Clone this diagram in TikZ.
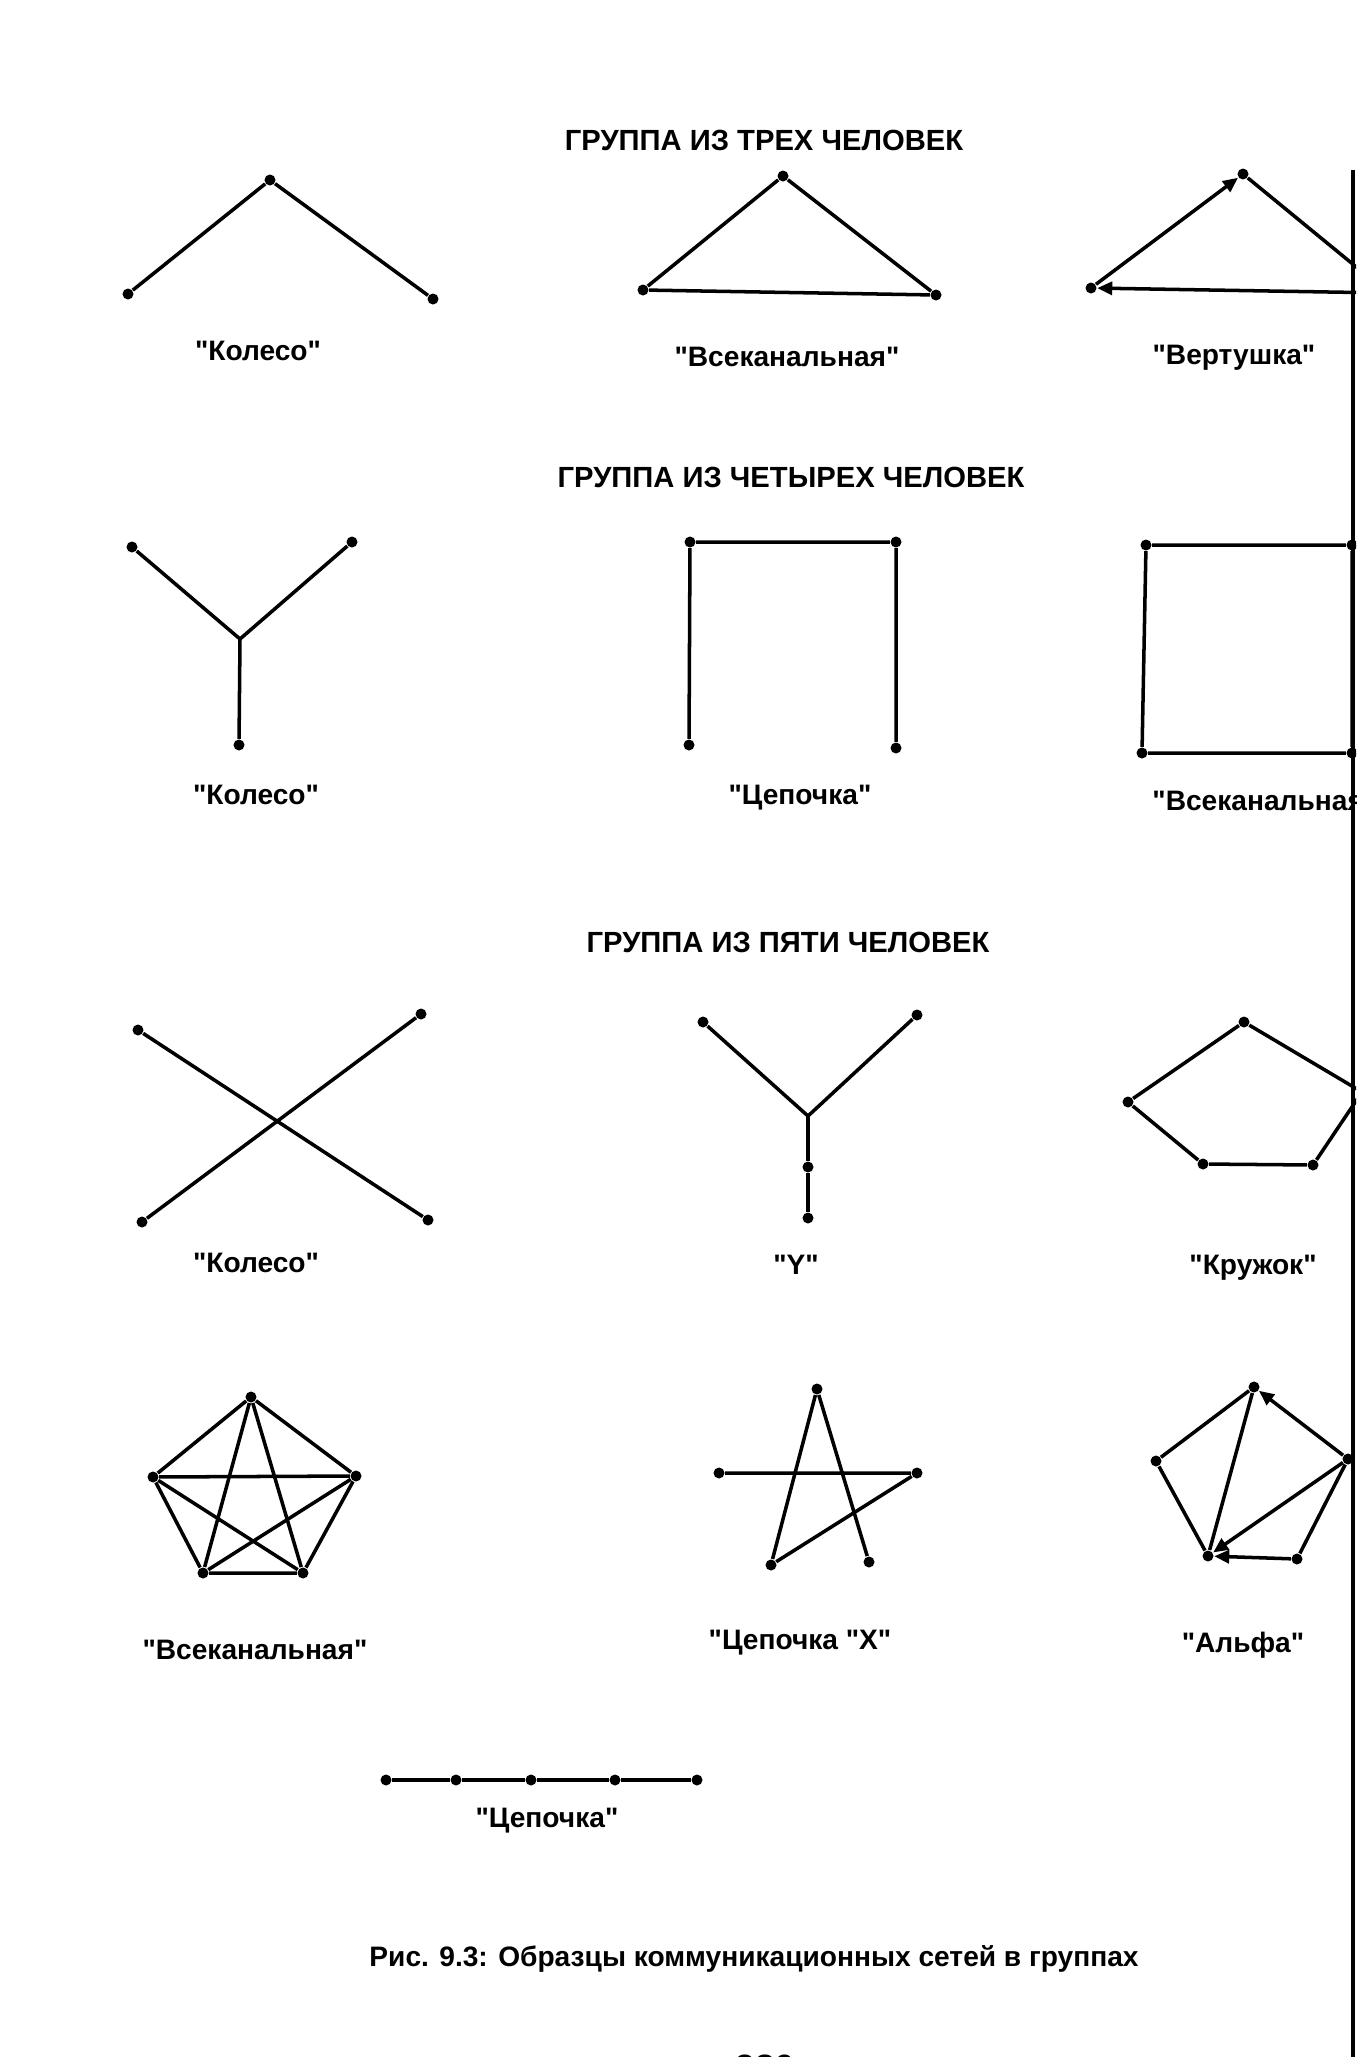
\documentclass[tikz,border=0pt]{standalone}
\usepackage{fontspec}
\setmainfont{Liberation Sans}[Ligatures=TeXOff]
\usetikzlibrary{arrows.meta}

\begin{document}
\begin{tikzpicture}[x=0.01cm, y=-0.01cm,
      dot/.style={circle, fill, inner sep=0pt, minimum size=0.11cm},
      edge/.style={line width=1pt},
      arr/.style={edge, -{Triangle[length=0.15cm, width=0.13cm]}},
      hdr/.style={font=\bfseries\fontsize{8.3}{10}\selectfont},
      lbl/.style={font=\bfseries\fontsize{8}{10}\selectfont}
    ]
      \useasboundingbox (0,0) rectangle (1356,2057);
      \clip (0,0) rectangle (1356,2057);

      % Three people
      \node[hdr] (h3) at (764,140) {ГРУППА ИЗ ТРЕХ ЧЕЛОВЕК};
      % Wheel, three
      \node[dot] (k3l) at (128,294) {};
      \node[dot] (k3t) at (270,180) {};
      \node[dot] (k3r) at (433,299) {};
      \node[lbl] (k3) at (258,351) {"Колесо"};
      \draw[edge] (k3l) -- (k3t) -- (k3r);
      % All-channel, three
      \node[dot] (v3l) at (643,290) {};
      \node[dot] (v3t) at (783,176) {};
      \node[dot] (v3r) at (936,295) {};
      \node[lbl] (v3) at (787,357) {"Всеканальная"};
      \draw[edge] (v3l) -- (v3t) -- (v3r) -- (v3l);
      % Spinner, three
      \node[dot] (w3l) at (1091,288) {};
      \node[dot] (w3t) at (1243,174) {};
      \node[dot] (w3r) at (1388,293) {};
      \node[lbl] (w3) at (1234,358) {"Вертушка"};
      \draw[arr] (w3l) -- (w3t);
      \draw[arr] (w3t) -- (w3r);
      \draw[arr] (w3r) -- (w3l);

      % Four people
      \node[hdr] (h4) at (791,477) {ГРУППА ИЗ ЧЕТЫРЕХ ЧЕЛОВЕК};
      % Wheel, four
      \node[dot] (k4a) at (132,547) {};
      \node[dot] (k4b) at (352,542) {};
      \coordinate (k4c) at (240,639);
      \node[dot] (k4d) at (239,745) {};
      \node[lbl] (k4) at (256,795) {"Колесо"};
      \draw[edge] (k4a) -- (k4c) -- (k4b);
      \draw[edge] (k4c) -- (k4d);
      % Chain, four
      \node[dot] (c4a) at (689,745) {};
      \node[dot] (c4b) at (690,542) {};
      \node[dot] (c4c) at (896,542) {};
      \node[dot] (c4d) at (896,748) {};
      \node[lbl] (c4) at (800,798) {"Цепочка"};
      \draw[edge] (c4a) -- (c4b) -- (c4c) -- (c4d);
      % All-channel, four
      \node[dot] (s4a) at (1146,545) {};
      \node[dot] (s4b) at (1352,545) {};
      \node[dot] (s4c) at (1352,753) {};
      \node[dot] (s4d) at (1142,753) {};
      \node[lbl, anchor=west] (s4) at (1140,801) {"Всеканальная"};
      \draw[edge] (s4a) -- (s4b) -- (s4c) -- (s4d) -- (s4a);

      % Five people
      \node[hdr] (h5) at (788,942) {ГРУППА ИЗ ПЯТИ ЧЕЛОВЕК};
      % Wheel, five
      \node[dot] (k5a) at (138,1030) {};
      \node[dot] (k5b) at (421,1014) {};
      \node[dot] (k5c) at (142,1222) {};
      \node[dot] (k5d) at (428,1220) {};
      \node[lbl] (k5) at (256,1263) {"Колесо"};
      \draw[edge] (k5a) -- (k5d);
      \draw[edge] (k5c) -- (k5b);
      % Y, five
      \node[dot] (y5a) at (703,1022) {};
      \node[dot] (y5b) at (917,1015) {};
      \coordinate (y5c) at (808,1116);
      \node[dot] (y5d) at (808,1167) {};
      \node[dot] (y5e) at (808,1218) {};
      \node[lbl] (y5) at (796,1265) {"Y"};
      \draw[edge] (y5a) -- (y5c) -- (y5b);
      \draw[edge] (y5c) -- (y5d) -- (y5e);
      % Circle, five
      \node[dot] (r5a) at (1244,1022) {};
      \node[dot] (r5b) at (1128,1102) {};
      \node[dot] (r5c) at (1203,1164) {};
      \node[dot] (r5d) at (1313,1165) {};
      \node[dot] (r5e) at (1362,1092) {};
      \node[lbl] (r5) at (1253,1268) {"Кружок"};
      \draw[edge] (r5a) -- (r5b) -- (r5c) -- (r5d) -- (r5e) -- (r5a);

      % All-channel, five
      \node[dot] (p5a) at (251,1397) {};
      \node[dot] (p5b) at (153,1477) {};
      \node[dot] (p5c) at (356,1476) {};
      \node[dot] (p5d) at (203,1573) {};
      \node[dot] (p5e) at (303,1573) {};
      \node[lbl] (p5) at (255,1650) {"Всеканальная"};
      \draw[edge] (p5a) -- (p5b) -- (p5d) -- (p5e) -- (p5c) -- (p5a);
      \draw[edge] (p5a) -- (p5d);
      \draw[edge] (p5a) -- (p5e);
      \draw[edge] (p5b) -- (p5c);
      \draw[edge] (p5b) -- (p5e);
      \draw[edge] (p5c) -- (p5d);
      % Chain X, five
      \node[dot] (x5a) at (817,1389) {};
      \node[dot] (x5b) at (719,1473) {};
      \node[dot] (x5c) at (917,1473) {};
      \node[dot] (x5d) at (771,1565) {};
      \node[dot] (x5e) at (869,1562) {};
      \node[lbl] (x5) at (800,1643) {"Цепочка "X"};
      \draw[edge] (x5b) -- (x5c) -- (x5d) -- (x5a) -- (x5e);
      % Alpha, five
      \node[dot] (a5a) at (1254,1387) {};
      \node[dot] (a5b) at (1156,1461) {};
      \node[dot] (a5c) at (1208,1556) {};
      \node[dot] (a5d) at (1297,1559) {};
      \node[dot] (a5e) at (1348,1459) {};
      \node[lbl] (a5) at (1243,1645) {"Альфа"};
      \draw[edge] (a5a) -- (a5b) -- (a5c) -- (a5a);
      \draw[edge] (a5d) -- (a5e);
      \draw[arr] (a5e) -- (a5a);
      \draw[arr] (a5e) -- (a5c);
      \draw[arr] (a5d) -- (a5c);

      % Chain, five in a row
      \node[dot] (c5a) at (386,1780) {};
      \node[dot] (c5b) at (456,1780) {};
      \node[dot] (c5c) at (531,1780) {};
      \node[dot] (c5d) at (615,1780) {};
      \node[dot] (c5e) at (697,1780) {};
      \node[lbl] (c5) at (547,1821) {"Цепочка"};
      \draw[edge] (c5a) -- (c5b) -- (c5c) -- (c5d) -- (c5e);

      % Caption
      \node[lbl] (cap) at (754,1959) {Рис. 9.3: Образцы коммуникационных сетей в группах};
      \node[lbl, anchor=north, font=\bfseries\fontsize{10}{12}\selectfont] (pg) at (765,2042) {386};

      % page edge
      \draw[line width=1.3pt] (1353,170) -- (1353,2057);
    \end{tikzpicture}
\end{document}
